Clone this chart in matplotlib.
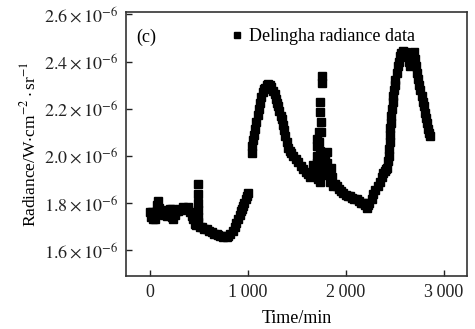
import matplotlib
import matplotlib.pyplot as plt

matplotlib.use("Agg")

plt.rcParams["font.family"] = ["Liberation Serif", "DejaVu Serif"]
plt.rcParams["mathtext.fontset"] = "stix"

# time in minutes, radiance in units of 1e-6 W cm^-2 sr^-1
time_min = [
    0, 10, 17, 30, 51, 60, 75, 85, 95, 110, 119, 140, 155, 170, 190, 205, 221, 230, 238, 255,
    270, 289, 305, 320, 340, 360, 375, 391, 405, 425, 440, 459, 475,
    493, 493, 493, 493, 493, 493,
    510, 527, 550, 578, 600, 629, 650, 680, 700, 720, 748, 770, 785, 799, 820, 850, 865, 880,
    901, 915, 930, 940, 952, 965, 980, 990, 1003,
    1037, 1045, 1055, 1063, 1071, 1085, 1100, 1110, 1122, 1135, 1150, 1162, 1173, 1190, 1205,
    1224, 1240, 1260, 1276, 1290, 1300, 1310, 1320, 1333, 1344, 1355, 1365, 1378, 1395, 1412,
    1430, 1445, 1463, 1490, 1514, 1540, 1565, 1590, 1616, 1633,
    1660, 1667, 1680, 1690, 1701, 1701, 1705, 1710, 1715, 1720, 1725, 1730, 1735, 1735, 1740,
    1740, 1745, 1745, 1750, 1752, 1755, 1760, 1765, 1775, 1790, 1803, 1810, 1820, 1837, 1850,
    1860, 1871, 1890, 1905, 1925, 1950, 1973, 2000, 2020, 2041, 2060, 2080, 2109, 2130, 2150,
    2177, 2195, 2211, 2225, 2240, 2262, 2280, 2300, 2330, 2350, 2365, 2381, 2395, 2410, 2420,
    2432, 2437, 2441, 2445, 2449, 2453, 2458, 2463, 2470, 2477, 2483, 2490, 2497, 2505, 2517,
    2527, 2538, 2551, 2565, 2585, 2600, 2619, 2630, 2640, 2653, 2665, 2675, 2687, 2695, 2704,
    2715, 2727, 2738, 2750, 2760, 2772, 2782, 2795, 2806, 2815, 2828, 2840, 2850, 2857,
]
radiance = [
    1.76, 1.74, 1.76, 1.73, 1.73, 1.76, 1.79, 1.81, 1.78, 1.76, 1.77, 1.75, 1.76, 1.745, 1.76,
    1.775, 1.774, 1.74, 1.73, 1.75, 1.765, 1.767, 1.775, 1.77, 1.781, 1.775, 1.78, 1.781, 1.76,
    1.745, 1.73, 1.71, 1.705,
    1.72, 1.74, 1.77, 1.80, 1.84, 1.88,
    1.70, 1.696, 1.69, 1.689, 1.68, 1.675, 1.67, 1.668, 1.665, 1.66, 1.654, 1.66, 1.655, 1.661,
    1.67, 1.682, 1.70, 1.715, 1.731, 1.75, 1.765, 1.775, 1.788, 1.80, 1.815, 1.83, 1.844,
    2.014, 2.04, 2.065, 2.09, 2.113, 2.145, 2.175, 2.20, 2.226, 2.25, 2.27, 2.283, 2.289, 2.30,
    2.303, 2.30, 2.29, 2.275, 2.261, 2.24, 2.225, 2.211, 2.19, 2.17, 2.155, 2.13, 2.11, 2.084,
    2.06, 2.035, 2.02, 2.01, 2.00, 1.985, 1.972, 1.955, 1.943, 1.93, 1.922, 1.91,
    1.93, 1.96, 1.92, 1.95, 2.07, 2.04, 2.00, 1.97, 1.93, 1.90, 2.10, 2.06, 2.227, 1.888, 2.185,
    2.02, 2.142, 1.96, 2.10, 2.339, 2.31, 2.00, 1.92, 1.95, 2.00, 2.015, 1.97, 1.93, 1.89, 1.95,
    1.91, 1.87, 1.88, 1.872, 1.86, 1.85, 1.844, 1.835, 1.83, 1.83, 1.82, 1.816, 1.816, 1.81, 1.80,
    1.80, 1.79, 1.78, 1.79, 1.80, 1.816, 1.84, 1.855, 1.872, 1.89, 1.91, 1.929, 1.935, 1.945, 1.95,
    1.98, 2.00, 2.03, 2.06, 2.09, 2.12, 2.14, 2.17, 2.20, 2.23, 2.254, 2.28, 2.30, 2.32, 2.353,
    2.38, 2.40, 2.423, 2.435, 2.444, 2.44, 2.438, 2.42, 2.40, 2.381, 2.40, 2.425, 2.438, 2.44, 2.41,
    2.38, 2.35, 2.325, 2.30, 2.28, 2.254, 2.23, 2.21, 2.183, 2.16, 2.14, 2.113, 2.095, 2.084,
]

x_ticks = [0, 1000, 2000, 3000]
x_tick_labels = ["0", "1\u2009000", "2\u2009000", "3\u2009000"]
y_ticks = [1.6, 1.8, 2.0, 2.2, 2.4, 2.6]
y_tick_labels = [rf"${v:.1f}\times10^{{-6}}$" for v in y_ticks]

figure = plt.figure(figsize=(4.75, 3.29), dpi=100)
axis = figure.add_axes([0.265, 0.161, 0.718, 0.8025])

axis.plot(time_min, radiance, "s", color="black", markersize=5.5,
          label="Delingha radiance data")

axis.set_xlim(-245, 3235)
axis.set_ylim(1.49, 2.61)
axis.set_xticks(x_ticks)
axis.set_xticklabels(x_tick_labels)
axis.set_yticks(y_ticks)
axis.set_yticklabels(y_tick_labels)
axis.tick_params(direction="in", length=4, width=1, labelsize=13, pad=6, colors="#222222")
for spine in axis.spines.values():
    spine.set_linewidth(1.2)
    spine.set_color("#333333")

axis.set_xlabel("Time/min", fontsize=13, labelpad=6)
axis.set_ylabel(r"Radiance/W$\cdot$cm$^{-2}\cdot$sr$^{-1}$", fontsize=12.5, labelpad=3)
axis.text(0.03, 0.905, "(c)", transform=axis.transAxes, fontsize=13, va="center")
axis.legend(loc="upper left", bbox_to_anchor=(0.3, 0.94), frameon=False, fontsize=13,
            handletextpad=0.15, markerscale=0.8, borderaxespad=0, borderpad=0,
            handlelength=1.0)

figure.savefig("out.png", dpi=100)
plt.close(figure)
